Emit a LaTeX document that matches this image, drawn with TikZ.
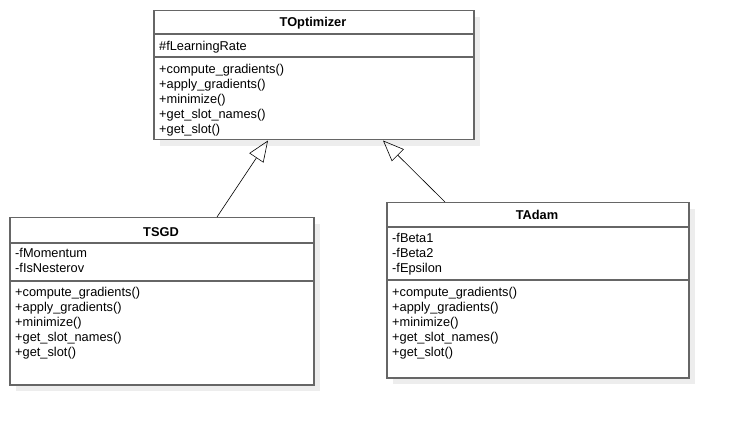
\documentclass[tikz,border=0pt]{standalone}
\usepackage{fontspec}
\setmainfont{Liberation Sans}
\usetikzlibrary{arrows.meta,shadows}

\begin{document}
\begin{tikzpicture}[x=1pt,y=-1pt,
    classbox/.style ={rectangle, draw=black!60, line width=1.5pt, fill=white,
      inner sep=0pt, anchor=north west,
      drop shadow={shadow xshift=6pt, shadow yshift=-6pt, fill=black!7, opacity=1}},
    classname/.style ={font=\fontsize{12.8}{15}\selectfont\bfseries,
      inner sep=0pt, anchor=base},
    members/.style ={font=\fontsize{12.8}{15}\selectfont, align=left,
      inner sep=0pt, anchor=north west},
    sep/.style ={draw=black!60, line width=1.5pt},
    inherit/.style ={draw, line width=0.6pt, -{Triangle[open,length=21pt,width=17pt]}}]
    \useasboundingbox (0,0) rectangle (729,425);
    % base class
    \node [classbox, minimum width=320, minimum height=129] (opt) at (153,10) {};
    \draw [sep] (opt.west |- 0,34) -- (opt.east |- 0,34);
    \draw [sep] (opt.west |- 0,57) -- (opt.east |- 0,57);
    \node [classname] (optname) at (313,26.5) {TOptimizer};
    \node [members] (optattr) at (159,41.5) {\#fLearningRate};
    \node [members] (optops) at (159,64) {+compute\_gradients()\\+apply\_gradients()\\+minimize()\\+get\_slot\_names()\\+get\_slot()};
    % sgd
    \node [classbox, minimum width=304, minimum height=167] (sgd) at (9,217) {};
    \draw [sep] (sgd.west |- 0,243) -- (sgd.east |- 0,243);
    \draw [sep] (sgd.west |- 0,281) -- (sgd.east |- 0,281);
    \node [classname] (sgdname) at (161,236.5) {TSGD};
    \node [members] (sgdattr) at (15,248.5) {-fMomentum\\-fIsNesterov};
    \node [members] (sgdops) at (15,287.5) {+compute\_gradients()\\+apply\_gradients()\\+minimize()\\+get\_slot\_names()\\+get\_slot()};
    % adam
    \node [classbox, minimum width=302, minimum height=175] (adam) at (386,202) {};
    \draw [sep] (adam.west |- 0,227) -- (adam.east |- 0,227);
    \draw [sep] (adam.west |- 0,280) -- (adam.east |- 0,280);
    \node [classname] (adamname) at (537,219.5) {TAdam};
    \node [members] (adamattr) at (392,233.5) {-fBeta1\\-fBeta2\\-fEpsilon};
    \node [members] (adamops) at (392,287.5) {+compute\_gradients()\\+apply\_gradients()\\+minimize()\\+get\_slot\_names()\\+get\_slot()};
    % generalization
    \path [inherit] ([xshift=208pt]sgd.north west) -- ([xshift=115pt]opt.south west);
    \path [inherit] ([xshift=59pt]adam.north west) -- ([xshift=230pt]opt.south west);
\end{tikzpicture}
\end{document}
